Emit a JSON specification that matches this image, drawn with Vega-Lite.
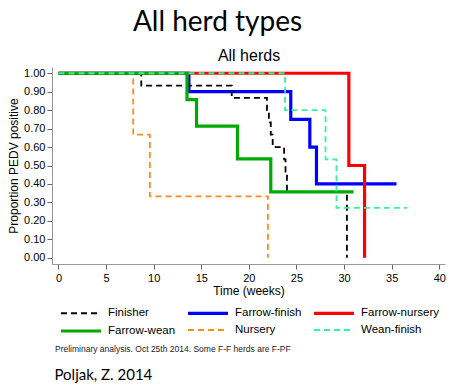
{
  "$schema": "https://vega.github.io/schema/vega-lite/v6.json",
  "autosize": {"type": "none"},
  "padding": {"left": 52, "top": 67, "right": 11, "bottom": 124},
  "width": 393,
  "height": 197,
  "config": {"view": {"stroke": null}, "font": "Liberation Sans"},
  "title": {"text": "All herd types", "font": "Lato", "fontSize": 28, "fontWeight": "normal", "color": "#000000", "anchor": "middle", "frame": "group", "dx": -31, "offset": 10},
  "data": {"values": [
    {"g": "Farrow-finish", "t": 0, "p": 1},
    {"g": "Farrow-finish", "t": 13.7, "p": 0.9},
    {"g": "Farrow-finish", "t": 24.4, "p": 0.75},
    {"g": "Farrow-finish", "t": 26.4, "p": 0.6},
    {"g": "Farrow-finish", "t": 27.1, "p": 0.4},
    {"g": "Farrow-finish", "t": 35.5, "p": 0.4},
    {"g": "Farrow-nursery", "t": 0, "p": 1},
    {"g": "Farrow-nursery", "t": 30.5, "p": 0.5},
    {"g": "Farrow-nursery", "t": 32.15, "p": 0},
    {"g": "Finisher", "t": 0, "p": 1},
    {"g": "Finisher", "t": 8.7, "p": 0.933},
    {"g": "Finisher", "t": 18.2, "p": 0.867},
    {"g": "Finisher", "t": 21.9, "p": 0.8},
    {"g": "Finisher", "t": 22.1, "p": 0.733},
    {"g": "Finisher", "t": 22.3, "p": 0.667},
    {"g": "Finisher", "t": 22.5, "p": 0.6},
    {"g": "Finisher", "t": 23.7, "p": 0.533},
    {"g": "Finisher", "t": 23.85, "p": 0.467},
    {"g": "Finisher", "t": 24.0, "p": 0.357},
    {"g": "Finisher", "t": 30.3, "p": 0},
    {"g": "Nursery", "t": 0, "p": 1},
    {"g": "Nursery", "t": 7.85, "p": 0.667},
    {"g": "Nursery", "t": 9.6, "p": 0.333},
    {"g": "Nursery", "t": 22.0, "p": 0},
    {"g": "Farrow-wean", "t": 0, "p": 1},
    {"g": "Farrow-wean", "t": 13.5, "p": 0.857},
    {"g": "Farrow-wean", "t": 14.5, "p": 0.714},
    {"g": "Farrow-wean", "t": 18.8, "p": 0.536},
    {"g": "Farrow-wean", "t": 22.3, "p": 0.357},
    {"g": "Farrow-wean", "t": 31.0, "p": 0.357},
    {"g": "Wean-finish", "t": 0, "p": 1},
    {"g": "Wean-finish", "t": 23.8, "p": 0.8},
    {"g": "Wean-finish", "t": 28.05, "p": 0.533},
    {"g": "Wean-finish", "t": 29.2, "p": 0.27},
    {"g": "Wean-finish", "t": 36.6, "p": 0.27}
  ]},
  "resolve": {"axis": {"x": "independent", "y": "independent"}},
  "layer": [
    {
      "mark": {"type": "line", "interpolate": "step-after"},
      "encoding": {
        "x": {"field": "t", "type": "quantitative",
          "scale": {"domain": [-0.68, 40.6], "nice": false, "zero": false},
          "axis": {"orient": "bottom", "title": "Time (weeks)", "values": [0, 5, 10, 15, 20, 25, 30, 35, 40], "grid": false,
            "domainColor": "#999999", "tickColor": "#666666", "tickSize": 5, "labelFontSize": 11, "labelColor": "#000000",
            "labelPadding": 3, "titleFontSize": 12, "titleFontWeight": "normal", "titleColor": "#000000", "titlePadding": 2, "labelFlush": false}},
        "y": {"field": "p", "type": "quantitative",
          "scale": {"domain": [-0.034, 1.034], "nice": false, "zero": false},
          "axis": {"orient": "left", "title": "Proportion PEDV positive", "values": [0, 0.1, 0.2, 0.3, 0.4, 0.5, 0.6, 0.7, 0.8, 0.9, 1], "format": ".2f", "grid": false,
            "domainColor": "#999999", "tickColor": "#666666", "tickSize": 5, "labelFontSize": 11, "labelColor": "#000000",
            "labelPadding": 2, "titleFontSize": 12, "titleFontWeight": "normal", "titleColor": "#000000", "titlePadding": 3, "labelFlush": false}},
        "color": {"field": "g", "type": "nominal",
          "scale": {"domain": ["Finisher", "Farrow-finish", "Farrow-nursery", "Farrow-wean", "Nursery", "Wean-finish"],
                    "range": ["#000000", "#0000FF", "#FF0000", "#00AA00", "#FF8C1A", "#33F59A"]},
          "legend": {"title": "Preliminary analysis. Oct 25th 2014. Some F-F herds are F-PF", "titleOrient": "bottom", "titleAnchor": "start",
            "titleFontSize": 8.5, "titleFontWeight": "normal", "titleColor": "#222222", "titlePadding": 8, "titleLimit": 400,
            "orient": "none", "legendX": 3, "legendY": 239, "direction": "horizontal", "columns": 3, "columnPadding": 5, "rowPadding": 4, "gridAlign": "each",
            "symbolType": "M0,0H8", "symbolSize": 100, "labelFontSize": 11.5, "labelColor": "#000000", "labelOffset": 43, "labelLimit": 200,
            "encode": {"symbols": {"update": {"x": {"value": 6}}}, "labels": {"update": {"x": {"value": 53}}}}}},
        "strokeDash": {"field": "g", "type": "nominal",
          "scale": {"domain": ["Finisher", "Farrow-finish", "Farrow-nursery", "Farrow-wean", "Nursery", "Wean-finish"],
                    "range": [[6, 4], [1, 0], [1, 0], [1, 0], [6, 4], [6, 4]]}},
        "strokeWidth": {"field": "g", "type": "nominal", "legend": null,
          "scale": {"type": "ordinal", "domain": ["Finisher", "Farrow-finish", "Farrow-nursery", "Farrow-wean", "Nursery", "Wean-finish"],
                    "range": [1.8, 3.2, 3.2, 3.2, 1.8, 1.8]}}
      }
    },
    {
      "mark": {"type": "point", "opacity": 0},
      "encoding": {
        "x": {"field": "t", "type": "quantitative",
          "axis": {"orient": "top", "title": "All herds", "labels": false, "ticks": false, "domain": false, "grid": false,
            "titleFontSize": 16, "titleFontWeight": "normal", "titleColor": "#000000", "titlePadding": 4}},
        "y": {"field": "p", "type": "quantitative",
          "axis": {"orient": "right", "title": "Poljak, Z. 2014", "labels": false, "ticks": false, "domain": false, "grid": false,
            "titleAngle": 0, "titleX": -391, "titleY": 307, "titleAlign": "left", "titleBaseline": "middle",
            "titleFont": "Lato", "titleFontSize": 15, "titleFontWeight": "normal", "titleColor": "#000000"}}
      }
    }
  ]
}
